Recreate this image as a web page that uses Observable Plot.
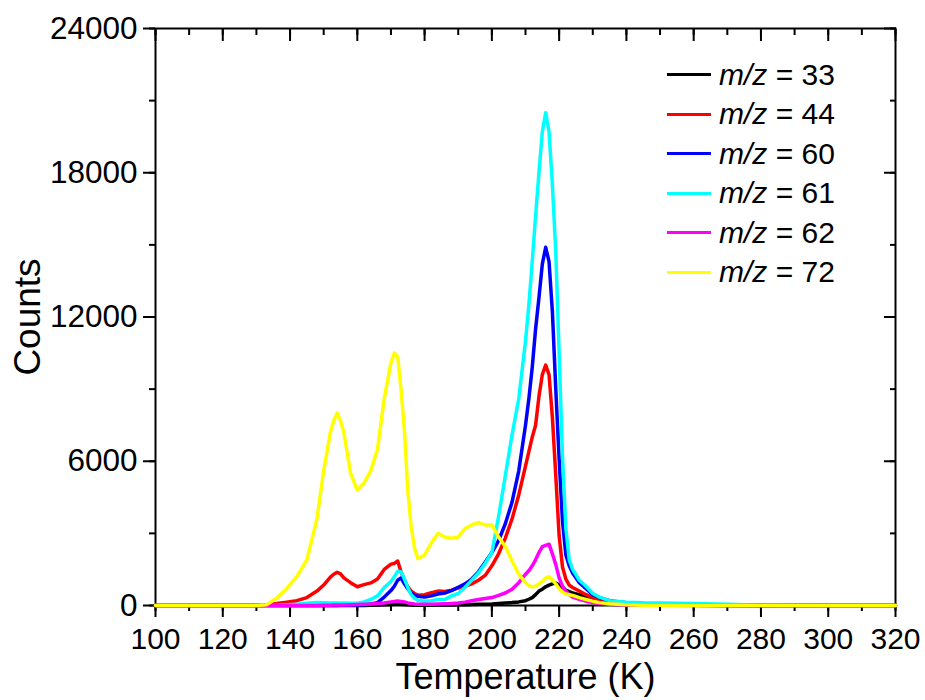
<!DOCTYPE html>
<html><head><meta charset="utf-8">
<script src="https://cdn.jsdelivr.net/npm/d3@7"></script>
<script src="https://cdn.jsdelivr.net/npm/@observablehq/plot@0.6"></script>
<style>
body{margin:0;background:#fff;}
#wrap{position:relative;width:925px;height:700px;font-family:"Liberation Sans",Arial,sans-serif;}
#legend{position:absolute;left:667px;top:55px;}
.row{display:flex;align-items:center;height:39.5px;font-size:30px;line-height:1;color:#000;white-space:nowrap;}
.sw{width:44px;height:3px;margin-right:8px;}
</style></head>
<body><div id="wrap"><div id="legend"></div></div>
<script>
const temps = [100,110,120,130,133,136,139,142,145,148,150,152,153,154,155,156,158,160,162,164,166,168,170,171,172,173,174,175,176,177,178,180,182,184,186,188,190,192,194,196,198,200,202,204,206,208,210,211,212,213,214,215,216,217,218,219,220,221,222,223,224,226,228,230,232,235,240,245,250,260,270,280,300,320];

const mz33 = [0,0,0,0,0,0,0,0,0,0,0,0,0,0,0,0,0,0,0,10,20,30,40,50,60,50,40,30,20,15,10,10,15,20,20,25,30,35,40,50,55,60,80,100,120,150,200,260,330,450,600,680,780,850,900,930,850,750,640,580,520,450,330,250,180,110,50,30,20,10,0,0,0,0];
const mz44 = [0,0,0,0,30,80,140,200,330,600,850,1180,1300,1380,1320,1150,950,780,870,940,1100,1500,1720,1750,1850,1400,1050,780,600,500,430,450,530,600,580,640,720,800,900,1050,1250,1650,2150,2800,3600,4600,5800,6400,7000,7500,8700,9600,10000,9600,7800,5400,2900,1600,1100,850,750,600,450,330,250,150,80,40,25,10,0,0,0,0];
const mz60 = [0,0,0,0,0,0,0,0,0,0,0,0,0,0,10,10,15,20,30,60,120,350,620,800,1050,1150,900,700,520,420,380,350,400,480,520,620,760,900,1100,1400,1800,2200,2700,3400,4300,5600,7500,8600,9900,11500,12800,14200,14900,14300,12200,9000,6100,3500,2100,1650,1350,950,700,450,330,200,110,70,50,30,15,5,0,0];
const mz61 = [0,0,0,0,0,10,30,50,90,120,110,100,100,100,100,100,90,90,150,250,400,750,1000,1200,1420,1400,1100,750,450,300,220,180,200,250,250,400,500,750,1050,1350,1750,2200,3700,5400,7100,8600,11000,12500,14300,16200,18000,19700,20500,19700,17500,14700,10500,6200,3200,1900,1500,1050,800,500,350,200,140,110,100,80,50,10,0,0];
const mz62 = [0,0,0,0,0,0,0,0,0,0,10,15,20,20,20,20,30,40,50,60,80,100,150,170,190,170,150,110,80,60,50,50,55,60,70,80,100,140,200,250,290,330,420,520,680,950,1300,1450,1650,1900,2200,2450,2500,2550,2150,1700,1150,800,600,450,350,260,180,120,80,50,20,10,10,0,0,0,0,0];
const mz72 = [0,0,0,0,30,300,700,1200,1900,3600,5600,7200,7700,8000,7700,7200,5500,4800,5100,5600,6500,8600,10100,10500,10350,9000,7300,4800,3300,2400,1950,2100,2600,3000,2850,2800,2850,3200,3350,3450,3350,3350,2850,2450,1850,1300,950,820,780,800,900,1000,1150,1200,1050,900,700,550,480,450,420,330,250,180,120,70,30,15,10,5,0,0,0,0];

const seriesLabels = ["33","44","60","61","62","72"];
const seriesColors = ["#000000","#ff0000","#0000ff","#00ffff","#ff00ff","#ffff00"];
const seriesValues = [mz33, mz44, mz60, mz61, mz62, mz72];

const xMajor = d3.range(100, 321, 20);
const xMinor = d3.range(100, 321, 10);
const yMajor = [0, 6000, 12000, 18000, 24000];
const yMinor = d3.range(0, 24001, 3000);

const rows = [];
seriesLabels.forEach((lab, s) => temps.forEach((t, i) => rows.push({T: t, v: seriesValues[s][i], key: lab})));

const font = "Liberation Sans, Arial, sans-serif";
const chart = Plot.plot({
  width: 925, height: 700,
  marginLeft: 155, marginRight: 30, marginTop: 28, marginBottom: 95,
  style: {fontFamily: font, background: "white", color: "black"},
  x: {domain: [100, 320]},
  y: {domain: [0, 24000]},
  color: {domain: seriesLabels, range: seriesColors},
  marks: [
    Plot.axisX({ticks: xMajor, tickSize: 12, tickPadding: 10, fontSize: 30, strokeWidth: 2, label: null, tickFormat: d3.format("d")}),
    Plot.axisX({ticks: xMinor, tickSize: 6, strokeWidth: 2, fill: "none", label: null}),
    Plot.axisX({ticks: [], tickSize: 0, fontSize: 36, label: "Temperature (K)", labelAnchor: "center", labelArrow: "none", labelOffset: 83}),
    Plot.axisX({anchor: "top", ticks: xMajor, tickSize: -12, strokeWidth: 2, fill: "none", label: null}),
    Plot.axisX({anchor: "top", ticks: xMinor, tickSize: -6, strokeWidth: 2, fill: "none", label: null}),
    Plot.axisY({ticks: yMajor, tickSize: 12, tickPadding: 6, fontSize: 31.5, strokeWidth: 2, label: null, tickFormat: d3.format("d")}),
    Plot.axisY({ticks: yMinor, tickSize: 6, strokeWidth: 2, fill: "none", label: null}),
    Plot.axisY({ticks: [], tickSize: 0, fontSize: 37, label: "Counts", labelAnchor: "center", labelArrow: "none", labelOffset: 142}),
    Plot.axisY({anchor: "right", ticks: yMajor, tickSize: -12, strokeWidth: 2, fill: "none", label: null}),
    Plot.axisY({anchor: "right", ticks: yMinor, tickSize: -6, strokeWidth: 2, fill: "none", label: null}),
    Plot.frame({strokeWidth: 2}),
    Plot.line(rows, {x: "T", y: "v", z: "key", stroke: "key", strokeWidth: 3.5, strokeLinejoin: "round"})
  ]
});
document.getElementById("wrap").prepend(chart);

const legend = document.getElementById("legend");
seriesLabels.forEach((lab, i) => {
  const row = document.createElement("div");
  row.className = "row";
  row.innerHTML = `<span class="sw" style="background:${seriesColors[i]}"></span><span><i>m/z</i> = ${lab}</span>`;
  legend.appendChild(row);
});
</script>
</body></html>
